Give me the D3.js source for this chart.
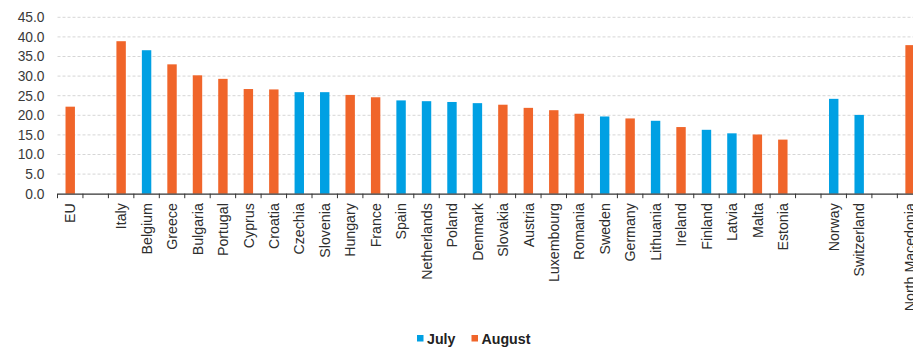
<!DOCTYPE html>
<html>
<head>
<meta charset="utf-8">
<script src="https://cdn.jsdelivr.net/npm/d3@7"></script>
<style>
  html, body { margin: 0; padding: 0; background: #fff; }
  svg { display: block; font-family: "Liberation Sans", Arial, sans-serif; }
</style>
</head>
<body>
<svg id="chart" width="913" height="347"></svg>
<script>
// Categories along the x axis; empty strings are spacer slots between groups
const categories = [
  "EU", "", "Italy", "Belgium", "Greece", "Bulgaria", "Portugal", "Cyprus", "Croatia",
  "Czechia", "Slovenia", "Hungary", "France", "Spain", "Netherlands", "Poland",
  "Denmark", "Slovakia", "Austria", "Luxembourg", "Romania", "Sweden", "Germany",
  "Lithuania", "Ireland", "Finland", "Latvia", "Malta", "Estonia", "", "Norway",
  "Switzerland", "", "North Macedonia"
];

// Peak month values (null where the peak fell in the other month)
const july = [
  null, null, null, 36.6, null, null, null, null, null,
  25.9, 25.9, null, null, 23.8, 23.6, 23.4,
  23.1, null, null, null, null, 19.7, null,
  18.6, null, 16.3, 15.4, null, null, null, 24.2,
  20.1, null, null
];
const august = [
  22.2, null, 38.9, null, 33.0, 30.2, 29.3, 26.7, 26.6,
  null, null, 25.2, 24.6, null, null, null,
  null, 22.7, 21.9, 21.3, 20.4, null, 19.2,
  null, 17.0, null, null, 15.1, 13.8, null, null,
  null, null, 37.9
];

const yTicks = [0, 5, 10, 15, 20, 25, 30, 35, 40, 45];
const seriesNames = ["July", "August"];
const seriesColors = ["#00a0e3", "#f0652a"];

(function () {
  const svg = d3.select("#chart");
  const plotLeft = 57.5, plotRight = 922.8, plotTop = 17.3, plotBottom = 193.7;

  const x = d3.scaleBand()
    .domain(d3.range(categories.length))
    .range([plotLeft, plotRight])
    .paddingInner(0.63)
    .paddingOuter(0.315);
  const step = x.step();

  const y = d3.scaleLinear().domain([0, 45]).range([plotBottom, plotTop]);

  // Horizontal gridlines
  svg.append("g")
    .selectAll("line")
    .data(yTicks.filter(d => d > 0))
    .join("line")
    .attr("x1", plotLeft).attr("x2", 913)
    .attr("y1", d => y(d)).attr("y2", d => y(d))
    .attr("stroke", "#d6d6d6")
    .attr("stroke-width", 1)
    .attr("stroke-dasharray", "3,2");

  // Y axis labels
  const yAxis = d3.axisLeft(y).tickValues(yTicks).tickFormat(d3.format(".1f")).tickSize(0).tickPadding(13);
  svg.append("g")
    .attr("transform", `translate(${plotLeft},0)`)
    .call(yAxis)
    .call(g => g.select(".domain").remove())
    .call(g => g.selectAll("text")
      .attr("font-size", 13.8)
      .attr("font-family", "Liberation Sans, Arial, sans-serif")
      .attr("fill", "#3a3a3a"));

  // Bars, one series at a time
  [july, august].forEach((vals, si) => {
    svg.append("g")
      .selectAll("rect")
      .data(vals.map((v, i) => ({ i, v })).filter(d => d.v != null))
      .join("rect")
      .attr("x", d => x(d.i))
      .attr("width", x.bandwidth())
      .attr("y", d => y(d.v))
      .attr("height", d => y(0) - y(d.v))
      .attr("fill", seriesColors[si]);
  });

  // X axis line and slot boundary ticks
  const xg = svg.append("g");
  xg.append("line")
    .attr("x1", plotLeft).attr("x2", plotRight)
    .attr("y1", plotBottom + 0.5).attr("y2", plotBottom + 0.5)
    .attr("stroke", "#333").attr("stroke-width", 1.3);
  xg.selectAll("line.tick")
    .data(d3.range(categories.length + 1))
    .join("line")
    .attr("class", "tick")
    .attr("x1", i => plotLeft + i * step).attr("x2", i => plotLeft + i * step)
    .attr("y1", plotBottom).attr("y2", plotBottom + 4.5)
    .attr("stroke", "#333").attr("stroke-width", 1);

  // Rotated category labels
  xg.selectAll("text")
    .data(categories.map((c, i) => ({ c, i })).filter(d => d.c !== ""))
    .join("text")
    .attr("transform", d => `translate(${x(d.i) + x.bandwidth() / 2 + 5.2},${plotBottom + 9.5}) rotate(-90)`)
    .attr("text-anchor", "end")
    .attr("font-size", 14.2)
    .attr("fill", "#2e2e2e")
    .text(d => d.c);

  // Legend
  const legend = svg.append("g");
  const legendItems = [
    { name: seriesNames[0], color: seriesColors[0], x: 417 },
    { name: seriesNames[1], color: seriesColors[1], x: 471.5 }
  ];
  legendItems.forEach(it => {
    legend.append("rect")
      .attr("x", it.x).attr("y", 335)
      .attr("width", 6.5).attr("height", 6.5)
      .attr("fill", it.color);
    legend.append("text")
      .attr("x", it.x + 10).attr("y", 343.5)
      .attr("font-size", 14.2)
      .attr("font-weight", "bold")
      .attr("fill", "#222")
      .text(it.name);
  });
})();
</script>
</body>
</html>
